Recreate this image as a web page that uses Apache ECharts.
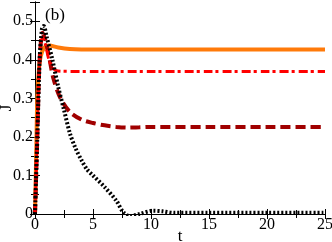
<!DOCTYPE html>
<html><head><meta charset="utf-8">
<script src="https://cdn.jsdelivr.net/npm/echarts@6/dist/echarts.min.js"></script>
<style>html,body{margin:0;padding:0;background:#fff}#c{width:332px;height:242px}</style>
</head><body><div id="c"></div>
<script>
var tOrange = [0, 0.1, 0.2, 0.35, 0.5, 0.8, 1.2, 2, 3, 4, 6, 10, 15, 20, 25];
var jOrange = [0, 0.15, 0.3, 0.38, 0.41, 0.432, 0.437, 0.432, 0.428, 0.427, 0.427, 0.427, 0.427, 0.427, 0.427];

var tRed = [0, 0.2, 0.4, 0.65, 0.9, 1.2, 1.6, 2, 3, 5, 10, 15, 20, 25];
var jRed = [0, 0.2, 0.4, 0.458, 0.44, 0.4, 0.377, 0.371, 0.37, 0.37, 0.37, 0.37, 0.37, 0.37];

var tDark = [0, 0.2, 0.4, 0.65, 0.9, 1.2, 1.6, 2.2, 3, 4, 5, 6, 7, 8, 9, 10, 15, 20, 25];
var jDark = [0, 0.2, 0.4, 0.47, 0.45, 0.41, 0.35, 0.3, 0.265, 0.245, 0.236, 0.23, 0.226, 0.224, 0.225, 0.226, 0.226, 0.226, 0.226];

var tBlack = [0, 0.2, 0.4, 0.6, 0.75, 1, 1.5, 2, 2.5, 3, 3.5, 4, 4.5, 5, 6, 7, 7.6, 8.2, 9, 10.2, 11, 12, 15, 20, 25];
var jBlack = [0, 0.2, 0.4, 0.48, 0.488, 0.46, 0.4, 0.33, 0.27, 0.21, 0.17, 0.14, 0.115, 0.1, 0.07, 0.035, 0.005, -0.006, 0.0, 0.0085, 0.007, 0.003, 0.003, 0.003, 0.003];

var xTicks = [0, 5, 10, 15, 20, 25];
var yTicks = [0, 0.1, 0.2, 0.3, 0.4, 0.5];

function pairs(t, j) { return t.map(function (v, i) { return [v, j[i]]; }); }

var font = 'Liberation Serif';
var chart = echarts.init(document.getElementById('c'), null, {renderer: 'canvas'});
var axisLineStyle = {color: '#000', width: 1};
chart.setOption({
  animation: false,
  title: {text: '(b)', left: 40, top: 2, textStyle: {fontFamily: font, fontSize: 17, fontWeight: 'normal', color: '#000'}},
  grid: {left: 35, right: 7, top: 2, bottom: 28, containLabel: false, outerBoundsMode: 'none'},
  xAxis: [{
    type: 'value', min: 0, max: 25, interval: 5,
    name: 't', nameLocation: 'middle', nameGap: 14, nameMoveOverlap: false,
    nameTextStyle: {fontFamily: font, fontSize: 17, color: '#000'},
    axisLine: {lineStyle: axisLineStyle},
    axisTick: {inside: true, length: 5, lineStyle: {color: '#000'}},
    minorTick: {show: true, splitNumber: 2, length: 4, lineStyle: {color: '#000'}},
    axisLabel: {fontFamily: font, fontSize: 16, color: '#000', margin: 3},
    splitLine: {show: false}
  }, {
    type: 'value', min: 0, max: 25, interval: 5, position: 'top',
    axisLine: {lineStyle: axisLineStyle},
    axisTick: {inside: true, length: 5, lineStyle: {color: '#000'}},
    minorTick: {show: true, splitNumber: 2, length: 4, lineStyle: {color: '#000'}},
    axisLabel: {show: false}, splitLine: {show: false}
  }],
  yAxis: [{
    type: 'value', min: 0, max: 0.55, interval: 0.1,
    name: 'J', nameLocation: 'middle', nameGap: 20, nameMoveOverlap: false,
    nameTextStyle: {fontFamily: font, fontSize: 17, color: '#000'},
    axisLine: {lineStyle: axisLineStyle},
    axisTick: {inside: true, length: 5, lineStyle: {color: '#000'}},
    minorTick: {show: true, splitNumber: 2, length: 4, lineStyle: {color: '#000'}},
    axisLabel: {fontFamily: font, fontSize: 16, color: '#000', margin: 2, showMaxLabel: false},
    splitLine: {show: false}
  }, {
    type: 'value', min: 0, max: 0.55, interval: 0.1, position: 'right',
    axisLine: {lineStyle: axisLineStyle},
    axisTick: {inside: true, length: 5, lineStyle: {color: '#000'}},
    minorTick: {show: true, splitNumber: 2, length: 4, lineStyle: {color: '#000'}},
    axisLabel: {show: false}, splitLine: {show: false}
  }],
  series: [
    {type: 'line', data: pairs(tOrange, jOrange), smooth: 0.3, symbol: 'none',
     lineStyle: {color: '#ff7a0a', width: 4}},
    {type: 'line', data: pairs(tDark, jDark), smooth: 0.3, symbol: 'none',
     lineStyle: {color: '#a00000', width: 4, type: [10, 5]}},
    {type: 'line', data: pairs(tRed, jRed), smooth: 0.3, symbol: 'none',
     lineStyle: {color: '#ff0000', width: 3, type: [9, 3, 3, 4]}},
    {type: 'line', data: pairs(tBlack, jBlack), smooth: 0.3, symbol: 'none',
     lineStyle: {color: '#000', width: 4, type: [2, 2]}}
  ]
});
</script></body></html>
